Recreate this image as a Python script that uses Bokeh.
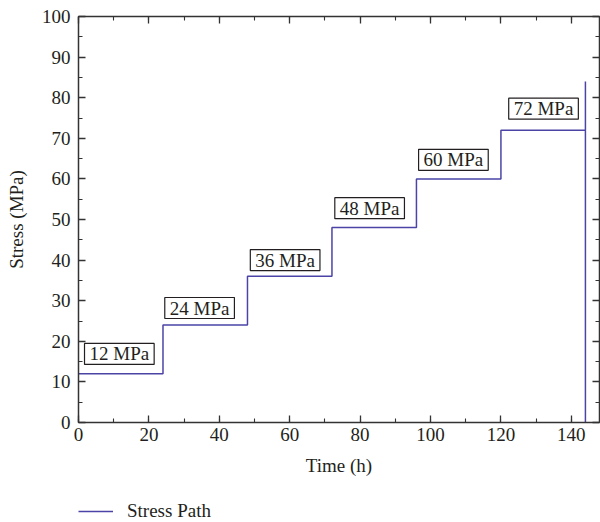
from bokeh.plotting import figure
from bokeh.layouts import column
from bokeh.models import Range1d, LinearAxis, Legend, LegendItem, ColumnDataSource, SingleIntervalTicker
from bokeh.core.properties import value
from bokeh.embed import file_html
from bokeh.resources import INLINE

# data
time_h = [0, 24, 24, 48, 48, 72, 72, 96, 96, 120, 120, 144, 144, 144]
stress = [12, 12, 24, 24, 36, 36, 48, 48, 60, 60, 72, 72, 84, 0]
label_x = [11.6, 34.4, 58.7, 82.7, 106.5, 132.1]
label_y = [16.9, 28.2, 40.0, 52.8, 64.7, 77.3]
label_text = ["12 MPa", "24 MPa", "36 MPa", "48 MPa", "60 MPa", "72 MPa"]

FONT = "Liberation Serif"
AX = "#333333"
TXT = "#231f20"
LINE = "#4b44a6"
FS = "19px"

p = figure(width=600, height=480, output_backend="svg", toolbar_location=None,
           x_range=Range1d(0, 148), y_range=Range1d(0, 100),
           min_border_left=78, min_border_right=1, min_border_top=16, min_border_bottom=58)
p.background_fill_color = "white"
p.border_fill_color = "white"
p.outline_line_color = AX
p.grid.visible = False

r = p.line(time_h, stress, line_color=LINE, line_width=1.5)

src = ColumnDataSource(dict(x=label_x, y=label_y, t=label_text))
p.text(x="x", y="y", text="t", source=src, text_font=value(FONT), text_font_size=FS,
       text_align="center", text_baseline="middle", text_color=TXT,
       background_fill_color="white", border_line_color=TXT, border_line_width=1.2,
       padding=dict(left=5, right=5, top=0, bottom=0))

def style(ax, labels=True):
    ax.axis_line_color = AX
    ax.axis_line_width = 1.5
    ax.major_tick_line_color = AX
    ax.minor_tick_line_color = AX
    ax.major_tick_line_width = 1.3
    ax.minor_tick_line_width = 1.1
    ax.major_tick_in = 7
    ax.major_tick_out = 0
    ax.minor_tick_in = 4
    ax.minor_tick_out = 0
    ax.major_label_text_font = FONT
    ax.major_label_text_font_size = FS
    ax.major_label_text_color = TXT
    ax.axis_label_text_font = FONT
    ax.axis_label_text_font_size = FS
    ax.axis_label_text_font_style = "normal"
    ax.axis_label_text_color = TXT
    if not labels:
        ax.major_label_text_alpha = 0
        ax.major_label_text_font_size = "1px"
        ax.major_label_standoff = 0

p.xaxis.ticker = SingleIntervalTicker(interval=20, num_minor_ticks=2)
p.yaxis.ticker = SingleIntervalTicker(interval=10, num_minor_ticks=2)
style(p.xaxis[0]); style(p.yaxis[0])
p.xaxis.axis_label = "Time (h)"
p.yaxis.axis_label = "Stress (MPa)"
p.xaxis.major_label_standoff = 5
p.yaxis.major_label_standoff = 8
p.xaxis.axis_label_standoff = 11
p.yaxis.axis_label_standoff = 12

top = LinearAxis(ticker=SingleIntervalTicker(interval=20, num_minor_ticks=2))
right = LinearAxis(ticker=SingleIntervalTicker(interval=10, num_minor_ticks=2))
style(top, False); style(right, False)
p.add_layout(top, "above")
p.add_layout(right, "right")

# legend strip below the chart
lg = figure(width=600, height=42, output_backend="svg", toolbar_location=None,
            x_range=Range1d(0, 148), y_range=Range1d(0, 100),
            x_axis_type=None, y_axis_type=None,
            min_border_left=0, min_border_right=0, min_border_top=0, min_border_bottom=0)
lg.outline_line_color = None
lg.grid.visible = False
lg.background_fill_color = "white"
lg.border_fill_color = "white"
lr = lg.line(time_h, stress, line_color=LINE, line_width=1.5)
lr.visible = False
legend = Legend(items=[LegendItem(label="Stress Path", renderers=[lr])],
                location=(0, 0), orientation="horizontal", click_policy="none",
                label_text_font=FONT, label_text_font_size=FS, label_text_color=TXT,
                glyph_width=35, glyph_height=20, label_height=20, label_standoff=14,
                border_line_color=None, background_fill_alpha=0, padding=0, margin=0)
lg.add_layout(legend, "center")

layout = column(p, lg, spacing=0)
open("out.html", "w").write(file_html(layout, INLINE))
